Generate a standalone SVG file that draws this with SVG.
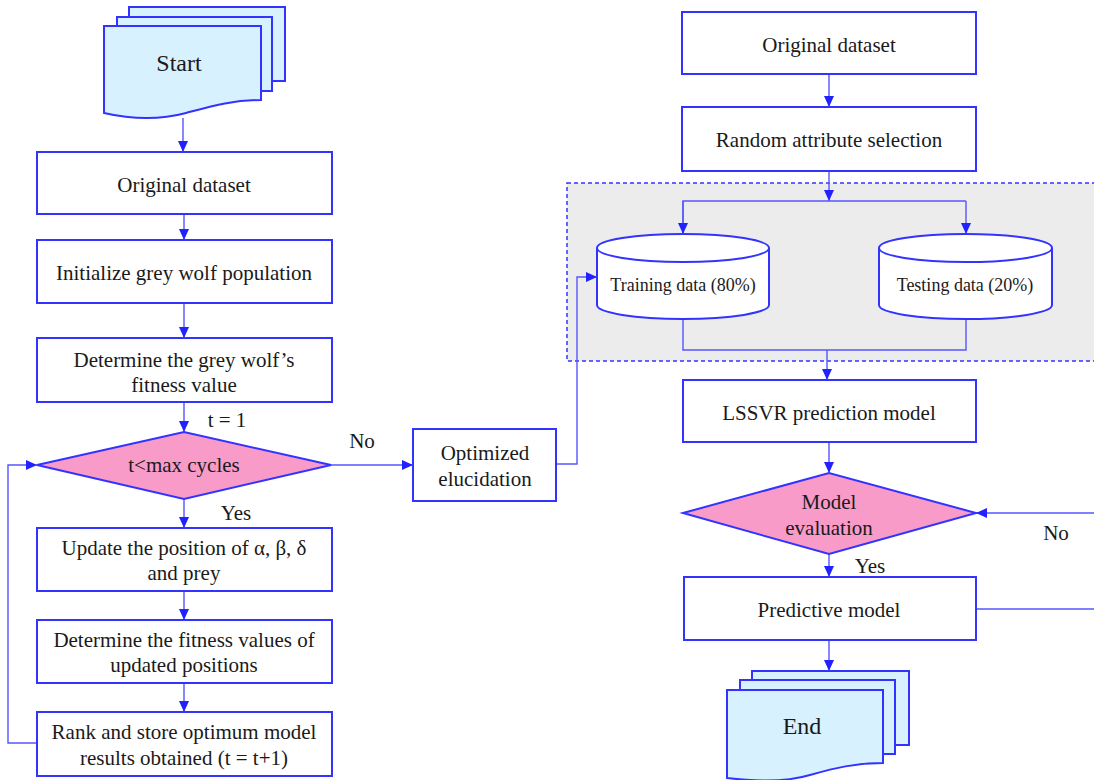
<svg xmlns="http://www.w3.org/2000/svg" width="1094" height="780" viewBox="0 0 1094 780">
<defs>
<marker id="arr" markerUnits="userSpaceOnUse" markerWidth="12" markerHeight="10" refX="11" refY="5" orient="auto"><path d="M0,0 L11,5 L0,10 Z" fill="#2222ff"/></marker>
<style>
.box{fill:#fff;stroke:#3333ff;stroke-width:2}
.dia{fill:#f99bc9;stroke:#3333ff;stroke-width:2}
.doc{fill:#d8f1ff;stroke:#3333ff;stroke-width:2}
.cyl{fill:#fff;stroke:#3333ff;stroke-width:2}
.con{fill:none;stroke:#5555ff;stroke-width:1.4}
.t{font-family:"Liberation Serif","Times New Roman",serif;font-size:21px;fill:#1a1a1a;text-anchor:middle}
.s{font-size:18px}
.b{font-size:24px}
</style>
</defs>
<rect width="1094" height="780" fill="#fff"/>
<g id="region">
<rect x="567" y="183" width="540" height="178" fill="#ececec" stroke="#3333ff" stroke-width="1.5" stroke-dasharray="4,3"/>
</g>
<g id="connectors">
<line class="con" x1="183" y1="118" x2="183" y2="152" marker-end="url(#arr)"/>
<line class="con" x1="184" y1="214" x2="184" y2="240" marker-end="url(#arr)"/>
<line class="con" x1="184" y1="303" x2="184" y2="338" marker-end="url(#arr)"/>
<line class="con" x1="184" y1="402" x2="184" y2="432" marker-end="url(#arr)"/>
<line class="con" x1="184" y1="499" x2="184" y2="528" marker-end="url(#arr)"/>
<line class="con" x1="184" y1="591" x2="184" y2="620" marker-end="url(#arr)"/>
<line class="con" x1="184" y1="683" x2="184" y2="712" marker-end="url(#arr)"/>
<polyline class="con" points="37,743 8,743 8,465 37,465" marker-end="url(#arr)"/>
<line class="con" x1="331" y1="465" x2="413" y2="465" marker-end="url(#arr)"/>
<polyline class="con" points="556,464 577,464 577,277 597,277" marker-end="url(#arr)"/>
<line class="con" x1="829" y1="74" x2="829" y2="107" marker-end="url(#arr)"/>
<line class="con" x1="829" y1="171" x2="829" y2="201" marker-end="url(#arr)"/>
<polyline class="con" points="683,234 683,201 966,201" />
<line class="con" x1="683" y1="201" x2="683" y2="234" marker-end="url(#arr)"/>
<line class="con" x1="966" y1="201" x2="966" y2="234" marker-end="url(#arr)"/>
<polyline class="con" points="683,319 683,350 966,350 966,319"/>
<line class="con" x1="827" y1="350" x2="827" y2="380" marker-end="url(#arr)"/>
<line class="con" x1="829" y1="442" x2="829" y2="473" marker-end="url(#arr)"/>
<line class="con" x1="829" y1="554" x2="829" y2="577" marker-end="url(#arr)"/>
<line class="con" x1="829" y1="640" x2="829" y2="671" marker-end="url(#arr)"/>
<line class="con" x1="976" y1="609" x2="1100" y2="609"/>
<line class="con" x1="1100" y1="513" x2="976" y2="513" marker-end="url(#arr)"/>
</g>
<g id="start">
<rect class="doc" x="129" y="7" width="156" height="74"/>
<rect class="doc" x="117" y="17" width="155" height="74"/>
<path class="doc" d="M104,26 H261 V100 C232,100 212,106 186,113 C160,120 130,119 104,113 Z"/>
<text class="t b" x="179" y="71">Start</text>
</g>
<g id="orig-left">
<rect class="box" x="37" y="152" width="295" height="62"/>
<text class="t" x="184" y="192">Original dataset</text>
</g>
<g id="init">
<rect class="box" x="37" y="240" width="295" height="63"/>
<text class="t" x="184" y="280">Initialize grey wolf population</text>
</g>
<g id="fitness">
<rect class="box" x="37" y="338" width="295" height="64"/>
<text class="t" x="184" y="367">Determine the grey wolf’s</text>
<text class="t" x="184" y="392">fitness value</text>
</g>
<g id="cycles">
<polygon class="dia" points="37,465 184,432 331,465 184,499"/>
<text class="t" x="184" y="472">t&lt;max cycles</text>
</g>
<g id="update">
<rect class="box" x="37" y="528" width="295" height="63"/>
<text class="t" x="184" y="555">Update the position of α, β, δ</text>
<text class="t" x="184" y="580">and prey</text>
</g>
<g id="fitness2">
<rect class="box" x="37" y="620" width="295" height="63"/>
<text class="t" x="184" y="647">Determine the fitness values of</text>
<text class="t" x="184" y="672">updated positions</text>
</g>
<g id="rank">
<rect class="box" x="37" y="712" width="295" height="64"/>
<text class="t" x="184" y="739">Rank and store optimum model</text>
<text class="t" x="184" y="765">results obtained (t = t+1)</text>
</g>
<g id="labels">
<text class="t" x="227" y="427">t = 1</text>
<text class="t" x="236" y="520">Yes</text>
<text class="t" x="362" y="448">No</text>
<text class="t" x="870" y="573">Yes</text>
<text class="t" x="1056" y="540">No</text>
</g>
<g id="optimized">
<rect class="box" x="413" y="429" width="143" height="72"/>
<text class="t" x="485" y="460">Optimized</text>
<text class="t" x="485" y="486">elucidation</text>
</g>
<g id="orig-right">
<rect class="box" x="682" y="12" width="294" height="62"/>
<text class="t" x="829" y="52">Original dataset</text>
</g>
<g id="random">
<rect class="box" x="682" y="107" width="294" height="64"/>
<text class="t" x="829" y="147">Random attribute selection</text>
</g>
<g id="training">
<path class="cyl" d="M597,248 V305 A86,14 0 0 0 769,305 V248 A86,14 0 0 0 597,248 A86,14 0 0 0 769,248"/>
<text class="t s" x="683" y="291">Training data (80%)</text>
</g>
<g id="testing">
<path class="cyl" d="M879,248 V305 A86.5,14 0 0 0 1052,305 V248 A86.5,14 0 0 0 879,248 A86.5,14 0 0 0 1052,248"/>
<text class="t s" x="965" y="291">Testing data (20%)</text>
</g>
<g id="lssvr">
<rect class="box" x="683" y="380" width="293" height="62"/>
<text class="t" x="829" y="420">LSSVR prediction model</text>
</g>
<g id="evaluation">
<polygon class="dia" points="683,513 829,473 976,513 829,554"/>
<text class="t" x="829" y="509">Model</text>
<text class="t" x="829" y="535">evaluation</text>
</g>
<g id="predictive">
<rect class="box" x="684" y="577" width="292" height="63"/>
<text class="t" x="829" y="617">Predictive model</text>
</g>
<g id="end">
<rect class="doc" x="752" y="671" width="157" height="74"/>
<rect class="doc" x="740" y="680" width="155" height="74"/>
<path class="doc" d="M727,690 H883 V763 C855,763 835,768 810,775 C790,781 760,782 727,778 Z"/>
<text class="t b" x="802" y="734">End</text>
</g>
</svg>
